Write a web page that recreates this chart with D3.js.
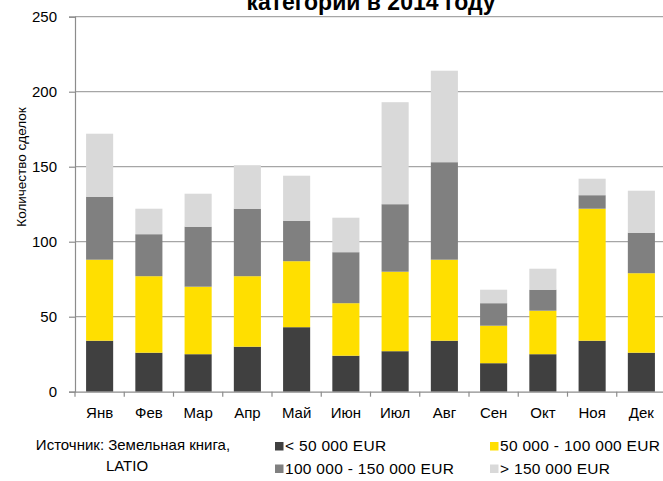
<!DOCTYPE html>
<html>
<head>
<meta charset="utf-8">
<script src="https://cdn.jsdelivr.net/npm/d3@7"></script>
<style>
  html, body { margin: 0; padding: 0; background: #fff; }
  svg { display: block; font-family: "Liberation Sans", Arial, sans-serif; }
</style>
</head>
<body>
<svg id="chart" width="663" height="481"></svg>
<script>
// Deals per month, split by price category (2014)
const months = ["Янв", "Фев", "Мар", "Апр", "Май", "Июн", "Июл", "Авг", "Сен", "Окт", "Ноя", "Дек"];
const under50k   = [34, 26, 25, 30, 43, 24, 27, 34, 19, 25, 34, 26];
const from50to100 = [54, 51, 45, 47, 44, 35, 53, 54, 25, 29, 88, 53];
const from100to150 = [42, 28, 40, 45, 27, 34, 45, 65, 15, 14, 9, 27];
const over150k   = [42, 17, 22, 29, 30, 23, 68, 61, 9, 14, 11, 28];
const seriesNames = ["< 50 000 EUR", "50 000 - 100 000 EUR", "100 000 - 150 000 EUR", "> 150 000 EUR"];
const seriesColors = ["#404040", "#ffdf00", "#808080", "#d9d9d9"];
const yTicks = [0, 50, 100, 150, 200, 250];

const svg = d3.select("#chart");
const margin = { left: 75, right: -3, top: 16.7, bottom: 89.3 };
const W = 663, H = 481;
const axisColor = "#8c8c8c";

const rows = months.map((m, i) => ({
  month: m,
  s0: under50k[i], s1: from50to100[i], s2: from100to150[i], s3: over150k[i]
}));
const stack = d3.stack().keys(["s0", "s1", "s2", "s3"])(rows);

const x = d3.scaleBand().domain(months)
  .range([margin.left, W - margin.right])
  .paddingInner(0.45).paddingOuter(0.225);
const y = d3.scaleLinear().domain([0, 250]).range([H - margin.bottom, margin.top]);

// Horizontal gridlines
svg.append("g").selectAll("line").data(yTicks.filter(t => t > 0)).join("line")
  .attr("x1", margin.left).attr("x2", W)
  .attr("y1", d => y(d)).attr("y2", d => y(d))
  .attr("stroke", "#a6a6a6").attr("stroke-width", 1.2);

// Stacked bars
svg.append("g").selectAll("g").data(stack).join("g")
  .attr("fill", (d, i) => seriesColors[i])
  .selectAll("rect").data(d => d).join("rect")
  .attr("x", d => x(d.data.month))
  .attr("width", x.bandwidth())
  .attr("y", d => y(d[1]))
  .attr("height", d => y(d[0]) - y(d[1]));

// Y axis
const yAxis = d3.axisLeft(y).tickValues(yTicks).tickSize(6).tickPadding(12);
const gy = svg.append("g").attr("transform", `translate(${margin.left},0)`).call(yAxis);
gy.select(".domain").attr("stroke", axisColor).attr("stroke-width", 1.2);
gy.selectAll(".tick line").attr("stroke", axisColor).attr("stroke-width", 1.2);
gy.selectAll(".tick text").attr("font-size", 15).attr("fill", "#000")
  .attr("font-family", "Liberation Sans, Arial, sans-serif");

// X axis: ticks sit between categories
const xAxis = d3.axisBottom(x).tickSize(0).tickPadding(15.5);
const gx = svg.append("g").attr("transform", `translate(0,${y(0)})`).call(xAxis);
gx.select(".domain").attr("stroke", axisColor).attr("stroke-width", 1.2);
gx.selectAll(".tick text").attr("font-size", 15).attr("fill", "#000")
  .attr("font-family", "Liberation Sans, Arial, sans-serif");
const step = x.step();
svg.append("g").selectAll("line").data(d3.range(months.length + 1)).join("line")
  .attr("x1", i => margin.left + i * step).attr("x2", i => margin.left + i * step)
  .attr("y1", y(0)).attr("y2", y(0) + 5)
  .attr("stroke", axisColor).attr("stroke-width", 1.2);

// Y axis title
svg.append("text")
  .attr("transform", `translate(26,167) rotate(-90)`)
  .attr("text-anchor", "middle")
  .attr("font-size", 13.5).attr("fill", "#000")
  .text("Количество сделок");

// Chart title (second line)
svg.append("text")
  .attr("x", 371).attr("y", 10)
  .attr("text-anchor", "middle")
  .attr("font-size", 23).attr("font-weight", "bold").attr("fill", "#000")
  .text("категории в 2014 году");

// Source note
svg.append("text").attr("text-anchor", "middle").attr("font-size", 15).attr("fill", "#000")
  .attr("x", 133).attr("y", 450).text("Источник: Земельная книга,");
svg.append("text").attr("text-anchor", "middle").attr("font-size", 15).attr("fill", "#000")
  .attr("x", 127).attr("y", 471).text("LATIO");

// Legend
const legendPos = [[275, 451], [490, 451], [275, 473.5], [490, 473.5]];
const lg = svg.append("g").selectAll("g").data(seriesNames).join("g")
  .attr("transform", (d, i) => `translate(${legendPos[i][0]},${legendPos[i][1]})`);
lg.append("rect").attr("x", 0).attr("y", -9).attr("width", 8.5).attr("height", 8.5)
  .attr("fill", (d, i) => seriesColors[i]);
lg.append("text").attr("x", 10).attr("y", 0).attr("font-size", 15.5)
  .attr("letter-spacing", 0.3).attr("fill", "#000")
  .text(d => d);
</script>
</body>
</html>
